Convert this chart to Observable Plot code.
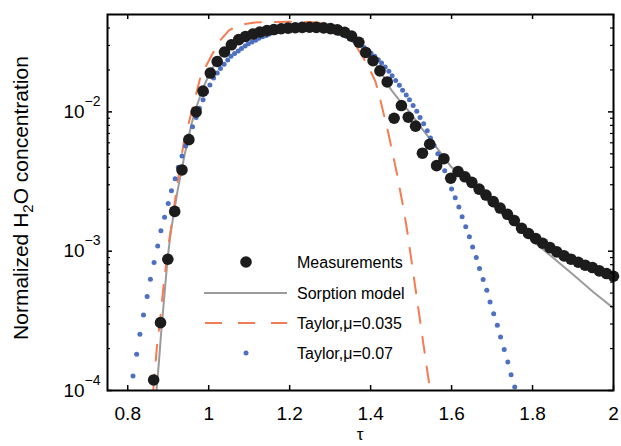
<!DOCTYPE html>
<html>
<head>
<meta charset="utf-8">
<script src="https://cdn.jsdelivr.net/npm/d3@7"></script>
<script src="https://cdn.jsdelivr.net/npm/@observablehq/plot@0.6"></script>
<style>
  html, body { margin: 0; padding: 0; background: white; }
  #chart svg { display: block; }
</style>
</head>
<body>
<div id="chart"></div>
<script>
// ---- Data ----
const tauMeas = [0.864,0.881,0.899,0.916,0.934,0.951,0.969,0.986,1.004,1.021,1.039,1.056,1.074,1.091,1.109,1.126,1.144,1.161,1.179,1.196,1.214,1.231,1.249,1.266,1.284,1.301,1.318,1.336,1.353,1.371,1.388,1.406,1.423,1.441,1.458,1.476,1.493,1.511,1.528,1.546,1.563,1.581,1.598,1.616,1.633,1.650,1.668,1.685,1.703,1.720,1.738,1.755,1.773,1.790,1.808,1.825,1.843,1.860,1.878,1.895,1.913,1.930,1.948,1.965,1.983,2.000];
const cMeas = [1.19e-4,3.07e-4,8.75e-4,1.93e-3,3.83e-3,6.32e-3,1.00e-2,1.41e-2,1.90e-2,2.30e-2,2.69e-2,3.03e-2,3.30e-2,3.48e-2,3.62e-2,3.74e-2,3.83e-2,3.90e-2,3.95e-2,3.99e-2,4.02e-2,4.04e-2,4.05e-2,4.04e-2,4.01e-2,3.96e-2,3.88e-2,3.73e-2,3.50e-2,3.16e-2,2.67e-2,2.33e-2,1.97e-2,1.64e-2,9.0e-3,1.11e-2,9.16e-3,7.90e-3,5.05e-3,5.86e-3,4.11e-3,4.61e-3,3.34e-3,3.73e-3,3.42e-3,3.12e-3,2.79e-3,2.53e-3,2.27e-3,2.04e-3,1.84e-3,1.66e-3,1.46e-3,1.34e-3,1.23e-3,1.14e-3,1.06e-3,9.89e-4,9.25e-4,8.76e-4,8.33e-4,7.93e-4,7.63e-4,7.22e-4,6.91e-4,6.61e-4];

const tauSorp = [0.871,0.877,0.883,0.890,0.898,0.906,0.915,0.924,0.933,0.941,0.950,0.958,0.967,0.985,1.004,1.022,1.041,1.060,1.078,1.100,1.125,1.152,1.190,1.227,1.260,1.288,1.315,1.338,1.360,1.380,1.400,1.425,1.450,1.475,1.500,1.525,1.550,1.575,1.600,1.625,1.650,1.700,1.750,1.800,1.850,1.900,1.950,2.000];
const cSorp = [1.0e-4,1.6e-4,2.7e-4,4.6e-4,8.6e-4,1.35e-3,1.97e-3,2.8e-3,3.8e-3,5.0e-3,6.5e-3,8.3e-3,1.03e-2,1.46e-2,1.94e-2,2.38e-2,2.8e-2,3.13e-2,3.4e-2,3.62e-2,3.8e-2,3.92e-2,4.03e-2,4.08e-2,4.07e-2,4.0e-2,3.84e-2,3.55e-2,3.2e-2,2.85e-2,2.5e-2,1.95e-2,1.45e-2,1.17e-2,9.7e-3,7.7e-3,6.2e-3,5.0e-3,4.0e-3,3.45e-3,2.95e-3,2.15e-3,1.60e-3,1.19e-3,9.0e-4,6.8e-4,5.1e-4,3.9e-4];

const tauT035 = [0.863,0.872,0.882,0.889,0.901,0.910,0.924,0.938,0.960,0.980,1.008,1.030,1.050,1.078,1.110,1.144,1.200,1.250,1.270,1.300,1.330,1.360,1.380,1.395,1.412,1.424,1.444,1.465,1.482,1.490,1.510,1.530,1.547];
const cT035 = [1.0e-4,2.05e-4,3.66e-4,5.85e-4,1.13e-3,1.67e-3,3.25e-3,5.95e-3,1.06e-2,1.80e-2,2.57e-2,3.3e-2,3.85e-2,4.23e-2,4.37e-2,4.41e-2,4.43e-2,4.41e-2,4.36e-2,4.23e-2,3.85e-2,3.1e-2,2.5e-2,2.1e-2,1.65e-2,1.22e-2,7.0e-3,3.6e-3,1.97e-3,1.42e-3,5.6e-4,2.2e-4,1.0e-4];

const tauT07 = [0.813,0.822,0.830,0.839,0.848,0.856,0.865,0.874,0.882,0.891,0.900,0.908,0.917,0.925,0.934,0.943,0.951,0.960,0.969,0.977,0.986,0.995,1.003,1.012,1.021,1.029,1.038,1.047,1.055,1.064,1.073,1.081,1.090,1.098,1.107,1.116,1.124,1.133,1.142,1.150,1.159,1.168,1.176,1.185,1.194,1.202,1.211,1.220,1.228,1.237,1.246,1.254,1.263,1.271,1.280,1.289,1.297,1.306,1.315,1.323,1.332,1.341,1.349,1.358,1.367,1.375,1.384,1.393,1.401,1.410,1.419,1.427,1.436,1.445,1.453,1.462,1.471,1.479,1.488,1.496,1.505,1.514,1.522,1.531,1.540,1.548,1.557,1.566,1.574,1.583,1.592,1.600,1.609,1.618,1.626,1.635,1.644,1.652,1.661,1.669,1.678,1.687,1.695,1.704,1.713,1.721,1.730,1.739,1.747,1.756];
const cT07 = [1.27e-4,1.82e-4,2.53e-4,3.48e-4,4.72e-4,6.30e-4,8.30e-4,1.09e-3,1.40e-3,1.75e-3,2.20e-3,2.72e-3,3.31e-3,4.00e-3,4.82e-3,5.69e-3,6.71e-3,7.83e-3,9.12e-3,1.06e-2,1.22e-2,1.39e-2,1.56e-2,1.75e-2,1.90e-2,2.05e-2,2.20e-2,2.36e-2,2.51e-2,2.62e-2,2.74e-2,2.85e-2,2.97e-2,3.08e-2,3.18e-2,3.27e-2,3.37e-2,3.46e-2,3.54e-2,3.62e-2,3.70e-2,3.77e-2,3.83e-2,3.88e-2,3.93e-2,3.96e-2,4.00e-2,4.03e-2,4.05e-2,4.06e-2,4.06e-2,4.05e-2,4.03e-2,4.00e-2,3.96e-2,3.92e-2,3.86e-2,3.80e-2,3.73e-2,3.66e-2,3.57e-2,3.48e-2,3.37e-2,3.26e-2,3.14e-2,3.02e-2,2.90e-2,2.77e-2,2.64e-2,2.51e-2,2.37e-2,2.24e-2,2.10e-2,1.96e-2,1.82e-2,1.68e-2,1.55e-2,1.43e-2,1.32e-2,1.22e-2,1.11e-2,1.01e-2,9.12e-3,8.22e-3,7.33e-3,6.49e-3,5.73e-3,5.01e-3,4.37e-3,3.78e-3,3.24e-3,2.79e-3,2.42e-3,2.08e-3,1.77e-3,1.50e-3,1.27e-3,1.07e-3,9.02e-4,7.50e-4,6.25e-4,5.24e-4,4.32e-4,3.56e-4,2.94e-4,2.42e-4,1.97e-4,1.60e-4,1.30e-4,1.06e-4];

const xTicks = [0.8, 1, 1.2, 1.4, 1.6, 1.8, 2];
const xTickLabels = ["0.8", "1", "1.2", "1.4", "1.6", "1.8", "2"];
const yTicks = [1e-4, 1e-3, 1e-2];
const yTickBase = ["10", "10", "10"];
const yTickExponents = ["\u22124", "\u22123", "\u22122"];
const yMinorTicks = [2e-4,3e-4,4e-4,5e-4,6e-4,7e-4,8e-4,9e-4,2e-3,3e-3,4e-3,5e-3,6e-3,7e-3,8e-3,9e-3,2e-2,3e-2,4e-2];
const legendLabels = ["Measurements", "Sorption model", "Taylor,\u03bc=0.035", "Taylor,\u03bc=0.07"];
const xLabel = "\u03c4";
const yLabelParts = ["Normalized H", "2", "O concentration"];

// ---- Tables ----
const zip = (t, c) => t.map((v, i) => ({t: v, c: c[i]}));
const meas = zip(tauMeas, cMeas);
const sorp = zip(tauSorp, cSorp);
const t035 = zip(tauT035, cT035);
const t07 = zip(tauT07, cT07);

const colMeas = "#1c1c1c", colSorp = "#9b9b9b", colT035 = "#f47b52", colT07 = "#4d70c0";
const FONT = "'Liberation Sans', Arial, Helvetica, sans-serif";

const W = 621, H = 446, ML = 107, MR = 8, MT = 14, MB = 56;
const innerW = W - ML - MR, innerH = H - MT - MB;
const majorLen = 5, minorLen = 3;

const chart = Plot.plot({
  width: W,
  height: H,
  marginLeft: ML,
  marginRight: MR,
  marginTop: MT,
  marginBottom: MB,
  style: {fontFamily: FONT, background: "white", color: "black", overflow: "visible"},
  x: {domain: [0.75, 2]},
  y: {type: "log", domain: [1e-4, 0.05]},
  marks: [
    Plot.line(sorp, {x: "t", y: "c", stroke: colSorp, strokeWidth: 2, clip: true}),
    Plot.line(t035, {x: "t", y: "c", stroke: colT035, strokeWidth: 2, strokeDasharray: "16,14", clip: true}),
    Plot.dot(t07, {x: "t", y: "c", r: 2.5, fill: colT07, stroke: "none"}),
    Plot.dot(meas, {x: "t", y: "c", r: 5.8, fill: colMeas, stroke: "none"}),
    // axis labels
    Plot.axisX({anchor: "bottom", ticks: xTicks, tickSize: 0, tickPadding: 16, fontSize: 19,
      tickFormat: d => xTickLabels[xTicks.indexOf(d)], label: null}),
    Plot.axisY({anchor: "left", ticks: yTicks, tickSize: 0, tickPadding: 7, fontSize: 19,
      tickFormat: d => yTickBase[yTicks.indexOf(d)], label: null}),
    // inward ticks on all four sides
    Plot.tickX(xTicks, {x: d => d, stroke: "black", strokeWidth: 1.5, insetTop: innerH - majorLen}),
    Plot.tickX(xTicks, {x: d => d, stroke: "black", strokeWidth: 1.5, insetBottom: innerH - majorLen}),
    Plot.tickY(yTicks, {y: d => d, stroke: "black", strokeWidth: 1.5, insetRight: innerW - majorLen}),
    Plot.tickY(yTicks, {y: d => d, stroke: "black", strokeWidth: 1.5, insetLeft: innerW - majorLen}),
    Plot.tickY(yMinorTicks, {y: d => d, stroke: "black", strokeWidth: 1.2, insetRight: innerW - minorLen}),
    Plot.tickY(yMinorTicks, {y: d => d, stroke: "black", strokeWidth: 1.2, insetLeft: innerW - minorLen}),
    Plot.frame({stroke: "black", strokeWidth: 2})
  ]
});

document.getElementById("chart").appendChild(chart);

const svg = d3.select(chart);

// superscript exponents on y tick labels
svg.selectAll('g[aria-label="y-axis tick label"] text').each(function(d, i) {
  const t = d3.select(this);
  const base = t.text();
  t.text(null);
  t.append("tspan").text(base);
  t.append("tspan").attr("dy", -12).attr("font-size", 14).text(yTickExponents[i]);
});

// axis titles
svg.append("text")
  .attr("transform", "translate(28,198) rotate(-90)")
  .attr("text-anchor", "middle")
  .attr("font-family", FONT)
  .attr("font-size", 21)
  .attr("fill", "black")
  .call(t => {
    t.append("tspan").text(yLabelParts[0]);
    t.append("tspan").attr("dy", 5).attr("font-size", 15).text(yLabelParts[1]);
    t.append("tspan").attr("dy", -5).text(yLabelParts[2]);
  });

svg.append("text")
  .attr("x", 360).attr("y", 440)
  .attr("text-anchor", "middle")
  .attr("font-family", FONT)
  .attr("font-size", 17)
  .attr("fill", "black")
  .text(xLabel);

// legend
const lg = svg.append("g").attr("font-family", FONT).attr("font-size", 16).attr("fill", "black")
  .attr("text-anchor", "start");
const rowY = [262, 293, 323, 353];
lg.append("circle").attr("cx", 246).attr("cy", rowY[0]).attr("r", 5.8).attr("fill", colMeas);
lg.append("line").attr("x1", 204).attr("x2", 287).attr("y1", rowY[1]).attr("y2", rowY[1])
  .attr("stroke", colSorp).attr("stroke-width", 2);
lg.append("line").attr("x1", 205).attr("x2", 287).attr("y1", rowY[2]).attr("y2", rowY[2])
  .attr("stroke", colT035).attr("stroke-width", 2).attr("stroke-dasharray", "17,16");
lg.append("circle").attr("cx", 246).attr("cy", rowY[3]).attr("r", 2.5).attr("fill", colT07);
legendLabels.forEach((s, i) => {
  lg.append("text").attr("x", 297).attr("y", rowY[i]).attr("dy", "0.35em")
    .attr("text-anchor", "start").text(s);
});
</script>
</body>
</html>
